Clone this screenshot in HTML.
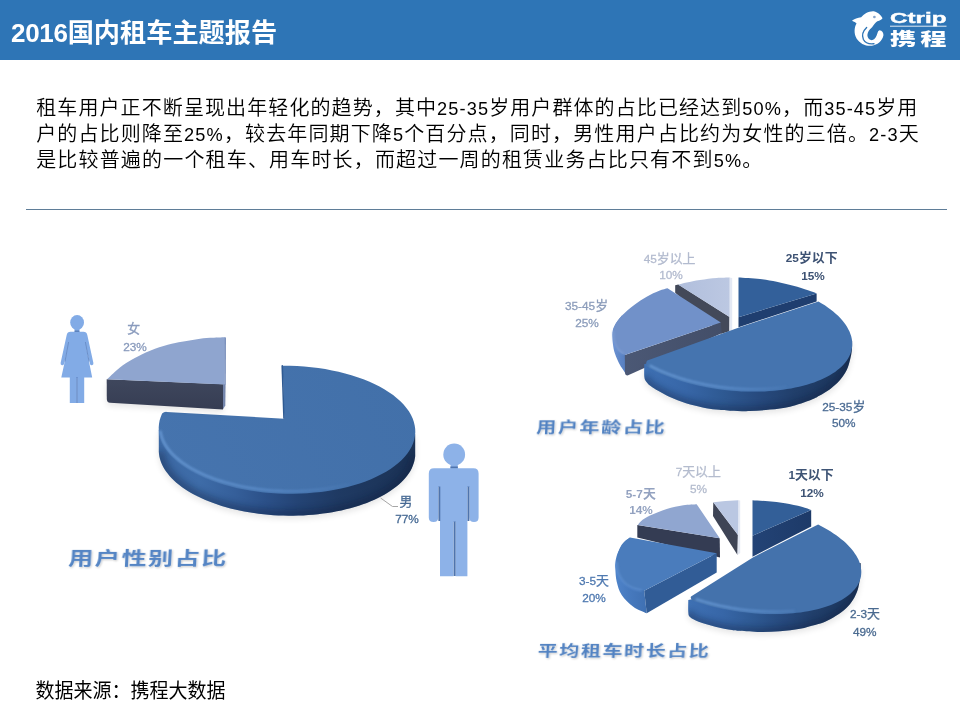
<!DOCTYPE html>
<html lang="zh-CN">
<head>
<meta charset="utf-8">
<title>2016国内租车主题报告</title>
<style>
html,body{margin:0;padding:0;background:#fff;}
body{width:960px;height:720px;position:relative;overflow:hidden;font-family:"Liberation Sans","Noto Sans CJK SC",sans-serif;}
.hdr{position:absolute;left:0;top:0;width:960px;height:59.6px;background:#2e75b6;}
.ttl{position:absolute;left:11px;top:13px;height:40px;line-height:40px;color:#fff;font-weight:bold;font-size:26.2px;white-space:nowrap;letter-spacing:0;}
.ttl .l{font-size:26px;letter-spacing:-0.3px;}
.para{position:absolute;left:36.2px;color:#000;font-size:20px;font-weight:350;white-space:nowrap;height:26px;line-height:26px;}
.para .l{font-size:18.2px;font-weight:400;}
.hr{position:absolute;left:26px;top:209px;width:921px;height:1px;background:#5f7d98;}
.src{position:absolute;left:35.5px;top:675.6px;transform:scaleY(1.08);transform-origin:0 50%;height:26px;line-height:26px;font-size:19px;color:#000;white-space:nowrap;}
svg{position:absolute;left:0;top:0;}
.lb{font-family:"Liberation Sans","Noto Sans CJK SC",sans-serif;font-size:12.9px;text-anchor:middle;}
.b{font-weight:bold;}
.lb .n{font-size:11.8px;}
.cap{font-family:"Liberation Sans","Noto Sans CJK SC",sans-serif;font-weight:700;}
</style>
</head>
<body>
<div class="hdr"></div>
<div class="ttl"><span class="l">2016</span>国内租车主题报告</div>
<div class="para" id="p1" style="top:94.6px;letter-spacing:1.1px">租车用户正不断呈现出年轻化的趋势，其中<span class="l">25-35</span>岁用户群体的占比已经达到<span class="l">50%</span>，而<span class="l">35-45</span>岁用</div>
<div class="para" id="p2" style="top:120.7px;letter-spacing:1.13px">户的占比则降至<span class="l">25%</span>，较去年同期下降<span class="l">5</span>个百分点，同时，男性用户占比约为女性的三倍。<span class="l">2-3</span>天</div>
<div class="para" id="p3" style="top:146.5px;letter-spacing:1.17px">是比较普遍的一个租车、用车时长，而超过一周的租赁业务占比只有不到<span class="l">5%</span>。</div>
<div class="hr"></div>
<div class="src">数据来源<span style="font-family:'Noto Sans CJK TC',sans-serif">：</span>携程大数据</div>
<svg width="960" height="720" viewBox="0 0 960 720">
<defs>
<filter id="bl1" x="-20%" y="-20%" width="140%" height="140%"><feGaussianBlur stdDeviation="1"/></filter>
<filter id="bl3" x="-20%" y="-20%" width="140%" height="140%"><feGaussianBlur stdDeviation="3"/></filter>
<filter id="ts" x="-10%" y="-30%" width="120%" height="180%"><feGaussianBlur in="SourceAlpha" stdDeviation="1.2"/><feOffset dx="1" dy="1.5" result="o"/><feComponentTransfer><feFuncA type="linear" slope="0.22"/></feComponentTransfer><feMerge><feMergeNode/><feMergeNode in="SourceGraphic"/></feMerge></filter>
<linearGradient id="w1" gradientUnits="userSpaceOnUse" x1="158" y1="0" x2="415" y2="0"><stop offset="0" stop-color="#3c69a4"/><stop offset="0.16" stop-color="#3e6ca8"/><stop offset="0.3" stop-color="#355f9a"/><stop offset="0.42" stop-color="#2b5088"/><stop offset="0.54" stop-color="#244475"/><stop offset="0.7" stop-color="#1f3a63"/><stop offset="1" stop-color="#1b3255"/></linearGradient>
<linearGradient id="f1" gradientUnits="userSpaceOnUse" x1="160" y1="490" x2="415" y2="370"><stop offset="0" stop-color="#4674ae"/><stop offset="1" stop-color="#4270a9"/></linearGradient>
<clipPath id="c1"><path d="M158.8,429.7L158.8,451.7L159.0,454.1L159.4,456.6L160.0,459.1L160.8,461.6L161.8,464.0L163.0,466.5L164.4,468.9L165.9,471.3L167.7,473.6L169.6,475.9L171.7,478.2L174.0,480.5L176.4,482.7L179.0,484.8L181.8,486.9L184.7,489.0L187.8,491.0L191.1,492.9L194.4,494.8L198.0,496.6L201.6,498.3L205.4,500.0L209.3,501.6L213.3,503.1L217.5,504.6L221.7,505.9L226.1,507.2L230.5,508.4L235.0,509.5L239.6,510.5L244.3,511.5L249.0,512.3L253.8,513.1L258.7,513.7L263.5,514.3L268.5,514.8L273.4,515.2L278.4,515.4L283.4,515.6L288.4,515.7L293.3,515.7L298.3,515.6L303.3,515.4L308.2,515.1L313.1,514.7L318.0,514.2L322.8,513.6L327.6,513.0L332.3,512.2L336.9,511.3L341.4,510.4L345.9,509.3L350.3,508.2L354.6,507.0L358.8,505.7L362.9,504.3L366.8,502.9L370.7,501.3L374.4,499.7L378.0,498.0L381.4,496.3L384.7,494.5L387.9,492.6L390.9,490.6L393.7,488.6L396.4,486.6L398.9,484.5L401.3,482.3L403.5,480.1L405.5,477.8L407.3,475.5L408.9,473.2L410.4,470.9L411.7,468.5L412.7,466.1L413.6,463.6L414.3,461.2L414.8,458.7L415.2,456.2L415.2,434.2Z"/></clipPath>
<linearGradient id="bv1" gradientUnits="userSpaceOnUse" x1="158" y1="0" x2="360" y2="0"><stop offset="0" stop-color="#74a6e2"/><stop offset="0.5" stop-color="#6496d4"/><stop offset="1" stop-color="#4472ac"/></linearGradient>
<linearGradient id="wf" gradientUnits="userSpaceOnUse" x1="0" y1="379" x2="0" y2="409"><stop offset="0" stop-color="#3f475d"/><stop offset="1" stop-color="#363d53"/></linearGradient>
<linearGradient id="f2d" gradientUnits="userSpaceOnUse" x1="676" y1="0" x2="730" y2="0"><stop offset="0" stop-color="#b0bedc"/><stop offset="1" stop-color="#bcc8e2"/></linearGradient>
<linearGradient id="w2c" gradientUnits="userSpaceOnUse" x1="612" y1="0" x2="627" y2="0"><stop offset="0" stop-color="#6e94d4"/><stop offset="0.5" stop-color="#5f87c8"/><stop offset="1" stop-color="#547cbd"/></linearGradient>
<linearGradient id="w2cr" gradientUnits="userSpaceOnUse" x1="625" y1="0" x2="722" y2="0"><stop offset="0" stop-color="#4b5875"/><stop offset="1" stop-color="#434e68"/></linearGradient>
<linearGradient id="w2b" gradientUnits="userSpaceOnUse" x1="645" y1="0" x2="852" y2="0"><stop offset="0" stop-color="#3e70b3"/><stop offset="0.2" stop-color="#3766a7"/><stop offset="0.38" stop-color="#2e5992"/><stop offset="0.55" stop-color="#274a7e"/><stop offset="0.72" stop-color="#213f6b"/><stop offset="1" stop-color="#1c355a"/></linearGradient>
<clipPath id="c2"><path d="M852.1,341.0C852.1,342.5 852.2,346.8 851.9,350.0C851.5,353.2 850.9,356.7 850.0,360.0C849.1,363.3 848.4,366.7 846.7,370.0C845.0,373.3 842.8,376.8 840.0,380.0C837.2,383.2 833.5,386.6 830.0,389.2C826.5,391.8 822.4,394.0 819.2,395.8C816.0,397.6 815.7,398.2 810.8,400.0C805.9,401.8 796.8,405.1 790.0,406.7C783.2,408.3 776.7,408.9 770.0,409.6C763.3,410.3 756.7,410.9 750.0,411.1C743.3,411.3 735.7,410.9 730.0,410.7C724.3,410.4 720.5,410.1 716.0,409.6C711.5,409.1 707.7,408.6 702.7,407.5C697.7,406.4 691.6,405.1 686.0,403.3C680.4,401.5 674.8,399.3 669.3,396.7C663.8,394.1 656.5,390.0 652.7,387.5C648.9,385.0 647.7,383.5 646.3,381.7C644.9,379.9 644.6,379.4 644.3,376.5C644.0,373.6 644.3,366.1 644.3,364.0Z"/></clipPath>
<linearGradient id="bv2" gradientUnits="userSpaceOnUse" x1="645" y1="0" x2="800" y2="0"><stop offset="0" stop-color="#74a6e2"/><stop offset="0.5" stop-color="#6496d4"/><stop offset="1" stop-color="#4574af"/></linearGradient>
<linearGradient id="w3a" gradientUnits="userSpaceOnUse" x1="753" y1="0" x2="811" y2="0"><stop offset="0" stop-color="#234376"/><stop offset="1" stop-color="#1d3a68"/></linearGradient>
<linearGradient id="w3c" gradientUnits="userSpaceOnUse" x1="615" y1="0" x2="647" y2="0"><stop offset="0" stop-color="#4f84ca"/><stop offset="0.4" stop-color="#477abf"/><stop offset="1" stop-color="#3f70b2"/></linearGradient>
<linearGradient id="w3b" gradientUnits="userSpaceOnUse" x1="689" y1="0" x2="861" y2="0"><stop offset="0" stop-color="#3e70b3"/><stop offset="0.2" stop-color="#3766a7"/><stop offset="0.38" stop-color="#2e5992"/><stop offset="0.55" stop-color="#274a7e"/><stop offset="0.72" stop-color="#213f6b"/><stop offset="1" stop-color="#1c355a"/></linearGradient>
<clipPath id="c3"><path d="M860.7,563.0C860.7,564.7 860.8,569.9 860.5,573.3C860.2,576.7 859.8,580.1 859.2,583.3C858.6,586.5 858.0,589.4 856.7,592.5C855.5,595.6 853.8,598.8 851.7,601.7C849.6,604.6 847.3,607.4 844.2,610.0C841.1,612.6 836.8,615.4 833.3,617.5C829.8,619.6 826.3,621.2 823.3,622.5C820.2,623.8 818.9,624.0 815.0,625.0C811.1,626.0 805.8,627.7 800.0,628.8C794.2,629.8 786.7,630.8 780.0,631.3C773.3,631.8 766.7,632.1 760.0,632.0C753.3,631.9 744.7,631.1 740.0,630.8C735.3,630.5 736.1,630.7 732.0,630.0C727.9,629.3 720.8,628.1 715.3,626.7C709.8,625.3 702.9,623.3 698.7,621.7C694.5,620.1 691.7,618.6 690.0,617.0C688.3,615.4 688.6,614.8 688.3,612.0C688.0,609.2 688.3,602.0 688.3,600.0Z"/></clipPath>
<linearGradient id="bv3" gradientUnits="userSpaceOnUse" x1="689" y1="0" x2="820" y2="0"><stop offset="0" stop-color="#74a6e2"/><stop offset="0.5" stop-color="#6496d4"/><stop offset="1" stop-color="#4472ac"/></linearGradient>
</defs>
<path d="M158.8,429.7L158.8,451.7L159.0,454.1L159.4,456.6L160.0,459.1L160.8,461.6L161.8,464.0L163.0,466.5L164.4,468.9L165.9,471.3L167.7,473.6L169.6,475.9L171.7,478.2L174.0,480.5L176.4,482.7L179.0,484.8L181.8,486.9L184.7,489.0L187.8,491.0L191.1,492.9L194.4,494.8L198.0,496.6L201.6,498.3L205.4,500.0L209.3,501.6L213.3,503.1L217.5,504.6L221.7,505.9L226.1,507.2L230.5,508.4L235.0,509.5L239.6,510.5L244.3,511.5L249.0,512.3L253.8,513.1L258.7,513.7L263.5,514.3L268.5,514.8L273.4,515.2L278.4,515.4L283.4,515.6L288.4,515.7L293.3,515.7L298.3,515.6L303.3,515.4L308.2,515.1L313.1,514.7L318.0,514.2L322.8,513.6L327.6,513.0L332.3,512.2L336.9,511.3L341.4,510.4L345.9,509.3L350.3,508.2L354.6,507.0L358.8,505.7L362.9,504.3L366.8,502.9L370.7,501.3L374.4,499.7L378.0,498.0L381.4,496.3L384.7,494.5L387.9,492.6L390.9,490.6L393.7,488.6L396.4,486.6L398.9,484.5L401.3,482.3L403.5,480.1L405.5,477.8L407.3,475.5L408.9,473.2L410.4,470.9L411.7,468.5L412.7,466.1L413.6,463.6L414.3,461.2L414.8,458.7L415.2,456.2L415.2,434.2Z" fill="#000" opacity=".10" filter="url(#bl3)" transform="translate(0,3)"/>
<path d="M158.8,429.7L158.8,451.7L159.0,454.1L159.4,456.6L160.0,459.1L160.8,461.6L161.8,464.0L163.0,466.5L164.4,468.9L165.9,471.3L167.7,473.6L169.6,475.9L171.7,478.2L174.0,480.5L176.4,482.7L179.0,484.8L181.8,486.9L184.7,489.0L187.8,491.0L191.1,492.9L194.4,494.8L198.0,496.6L201.6,498.3L205.4,500.0L209.3,501.6L213.3,503.1L217.5,504.6L221.7,505.9L226.1,507.2L230.5,508.4L235.0,509.5L239.6,510.5L244.3,511.5L249.0,512.3L253.8,513.1L258.7,513.7L263.5,514.3L268.5,514.8L273.4,515.2L278.4,515.4L283.4,515.6L288.4,515.7L293.3,515.7L298.3,515.6L303.3,515.4L308.2,515.1L313.1,514.7L318.0,514.2L322.8,513.6L327.6,513.0L332.3,512.2L336.9,511.3L341.4,510.4L345.9,509.3L350.3,508.2L354.6,507.0L358.8,505.7L362.9,504.3L366.8,502.9L370.7,501.3L374.4,499.7L378.0,498.0L381.4,496.3L384.7,494.5L387.9,492.6L390.9,490.6L393.7,488.6L396.4,486.6L398.9,484.5L401.3,482.3L403.5,480.1L405.5,477.8L407.3,475.5L408.9,473.2L410.4,470.9L411.7,468.5L412.7,466.1L413.6,463.6L414.3,461.2L414.8,458.7L415.2,456.2L415.2,434.2Z" fill="url(#w1)"/>
<g clip-path="url(#c1)"><path d="M158.8,451.7L159.0,454.1L159.4,456.6L160.0,459.1L160.8,461.6L161.8,464.0L163.0,466.5L164.4,468.9L165.9,471.3L167.7,473.6L169.6,475.9L171.7,478.2L174.0,480.5L176.4,482.7L179.0,484.8L181.8,486.9L184.7,489.0L187.8,491.0L191.1,492.9L194.4,494.8L198.0,496.6L201.6,498.3L205.4,500.0L209.3,501.6L213.3,503.1L217.5,504.6L221.7,505.9L226.1,507.2L230.5,508.4L235.0,509.5L239.6,510.5L244.3,511.5L249.0,512.3L253.8,513.1L258.7,513.7L263.5,514.3L268.5,514.8L273.4,515.2L278.4,515.4L283.4,515.6L288.4,515.7L293.3,515.7L298.3,515.6L303.3,515.4L308.2,515.1L313.1,514.7L318.0,514.2L322.8,513.6L327.6,513.0L332.3,512.2L336.9,511.3L341.4,510.4L345.9,509.3L350.3,508.2L354.6,507.0L358.8,505.7L362.9,504.3L366.8,502.9L370.7,501.3L374.4,499.7L378.0,498.0L381.4,496.3L384.7,494.5L387.9,492.6L390.9,490.6L393.7,488.6L396.4,486.6L398.9,484.5L401.3,482.3L403.5,480.1L405.5,477.8L407.3,475.5L408.9,473.2L410.4,470.9L411.7,468.5L412.7,466.1L413.6,463.6L414.3,461.2L414.8,458.7L415.2,456.2" fill="none" stroke="#101f3c" stroke-width="12" opacity=".35" filter="url(#bl3)"/></g>
<path d="M282.7,365.7L289.9,365.7L297.1,366.0L304.2,366.5L311.3,367.2L318.3,368.0L325.2,369.1L332.0,370.4L338.6,371.8L345.1,373.4L351.4,375.2L357.5,377.2L363.4,379.3L369.0,381.6L374.4,384.0L379.5,386.6L384.3,389.3L388.9,392.2L393.1,395.1L396.9,398.2L400.4,401.3L403.6,404.6L406.4,407.9L408.9,411.3L410.9,414.8L412.6,418.3L413.8,421.8L414.7,425.4L415.2,429.0L415.3,432.5L414.9,436.1L414.2,439.7L413.1,443.2L411.6,446.7L409.7,450.1L407.4,453.4L404.7,456.7L401.7,459.9L398.3,463.0L394.5,466.0L390.5,468.9L386.1,471.7L381.3,474.3L376.3,476.8L371.1,479.2L365.5,481.4L359.7,483.4L353.7,485.3L347.5,487.0L341.0,488.5L334.5,489.8L327.7,490.9L320.9,491.9L313.9,492.6L306.8,493.2L299.7,493.6L292.6,493.7L285.4,493.7L278.2,493.4L271.1,493.0L264.0,492.4L257.0,491.5L250.1,490.5L243.3,489.3L236.6,487.9L230.1,486.3L223.7,484.5L217.6,482.6L211.7,480.5L206.0,478.2L200.6,475.8L195.4,473.3L190.5,470.6L185.9,467.8L181.7,464.8L177.8,461.8L174.2,458.6L170.9,455.4L168.1,452.1L165.6,448.7L163.4,445.3L161.7,441.8L160.4,438.2L159.4,434.7L158.9,431.1L158.7,427.5L159.0,423.9L159.6,420.4L160.7,416.9L162.1,413.4Q164.2,411.6 166.8,411.9L284.2,418.7Z" fill="url(#f1)"/>
<path d="M349.5,483.8L345.7,484.8L341.8,485.7L337.8,486.6L333.8,487.3L329.7,488.0L325.6,488.7L321.4,489.2L317.2,489.7L313.0,490.1L308.7,490.5L304.4,490.8L300.1,491.0L295.7,491.1L291.4,491.1L287.0,491.1L282.7,491.0L278.3,490.8L274.0,490.6L269.6,490.3L265.3,489.9L261.1,489.4L256.8,488.9L252.6,488.3L248.4,487.6L244.3,486.9L240.2,486.1L236.2,485.2L232.2,484.2L228.3,483.2L224.5,482.2L220.7,481.0L217.1,479.8L213.5,478.6L210.0,477.2L206.5,475.9L203.2,474.4L200.0,472.9L196.9,471.4L193.9,469.8L191.0,468.2L188.2,466.5L185.5,464.7L182.9,463.0L180.5,461.2L178.2,459.3L176.0,457.4L173.9,455.5L172.0,453.5L170.2,451.5L168.6,449.5L167.1,447.5L165.7,445.4L164.5,443.4L163.4,441.3L162.5,439.2L161.7,437.0L161.1,434.9L160.6,432.8L160.3,430.6" fill="none" stroke="url(#bv1)" stroke-width="2.4" opacity=".7" filter="url(#bl1)"/>
<path d="M281.4,365.4L283,365L284.6,418.7L283.2,418.7Z" fill="#2f5a92"/>
<path d="M106.7,380L224,384.2L223,409.4L110,402.8Q106.9,402.5 106.8,399Z" fill="#000" opacity=".1" filter="url(#bl3)" transform="translate(0,3)"/>
<path d="M106.7,379.3L224,384.2L223,409.4L110,402.8Q106.9,402.5 106.8,399Z" fill="url(#wf)"/>
<path d="M223,384L225.6,384L225.3,405.5L223,409.2Z" fill="#7486ad"/>
<path d="M225.0,337.2C222.5,337.3 214.7,337.5 210.0,337.8C205.3,338.1 201.2,338.6 197.0,339.2C192.8,339.8 189.2,340.5 185.0,341.2C180.8,342.0 176.7,342.5 171.7,343.8C166.7,345.0 160.6,346.7 155.0,348.8C149.4,350.8 143.2,353.8 138.3,356.2C133.4,358.7 129.7,360.7 125.8,363.3C121.9,365.9 117.7,369.4 115.0,371.7C112.3,374.0 110.8,375.8 109.5,377.0C108.2,378.2 107.6,378.8 107.2,379.2L224.8,384.4Z" fill="#8fa5cf"/>
<path d="M224.6,337.2L226,337.6L225.8,384.4L224.6,384.4Z" fill="#7d92bd"/>
<path d="M678.3,284.5L675.2,285.2L675.2,292.8L721.2,333.8L729.4,331.2L729.6,316.9Z" fill="#434959"/>
<path d="M729.4,277.5L732.2,278L732.2,330.2L729.4,331.2Z" fill="#e4e9f4"/>
<path d="M729.6,277.5C727.5,277.6 721.6,277.6 716.7,278.0C711.8,278.4 705.0,279.2 700.0,280.0C695.0,280.8 690.3,281.7 686.7,282.5C683.1,283.3 679.7,284.3 678.3,284.7L729.6,316.9Z" fill="url(#f2d)"/>
<path d="M738.5,317.2L816.6,293.4L816.6,301.4L738.5,327.2Z" fill="#1f3e6f"/>
<path d="M738.5,277.5C742.1,277.8 753.6,278.3 760.0,279.0C766.4,279.7 771.2,280.7 776.7,281.8C782.2,282.9 788.1,284.4 793.3,285.8C798.5,287.2 804.1,289.0 808.0,290.3C811.9,291.6 815.2,292.9 816.6,293.4L738.5,317.2Z" fill="#33609a"/>
<path d="M621.7,315.8C620.6,317.3 616.5,322.3 615.0,325.0C613.5,327.7 612.9,328.9 612.5,332.0C612.1,335.1 612.5,340.1 612.9,343.8C613.3,347.4 613.8,350.2 615.0,353.8C616.2,357.3 618.0,361.4 620.0,365.0C622.0,368.6 625.8,373.5 626.9,375.2L625.3,354.8L640,320Z" fill="url(#w2c)"/>
<path d="M624.8,355L720.8,322.6L721.7,333.3L627.6,375.6Q625.2,375.6 625,373Z" fill="url(#w2cr)"/>
<path d="M667.5,288.3C666.1,288.7 662.7,289.4 659.2,290.8C655.7,292.2 650.9,294.3 646.7,296.7C642.5,299.1 638.4,301.8 634.2,305.0C630.0,308.2 624.9,312.5 621.7,315.8C618.5,319.1 616.5,322.1 615.0,325.0C613.5,327.9 613.0,330.6 612.8,333.3C612.6,336.1 613.1,338.8 613.9,341.5C614.7,344.2 616.2,347.4 617.6,349.5C619.0,351.6 620.7,352.9 622.0,353.8C623.3,354.7 624.8,354.6 625.3,354.8L720.8,322.6Z" fill="#7191c9"/>
<path d="M613.4,331.0C613.5,332.8 613.5,338.4 614.3,341.5C615.0,344.6 616.4,347.2 617.9,349.3C619.4,351.4 622.6,353.2 623.5,354.0" fill="none" stroke="#86a6dc" stroke-width="1.6" opacity=".6" filter="url(#bl1)"/>
<path d="M852.1,341.0C852.1,342.5 852.2,346.8 851.9,350.0C851.5,353.2 850.9,356.7 850.0,360.0C849.1,363.3 848.4,366.7 846.7,370.0C845.0,373.3 842.8,376.8 840.0,380.0C837.2,383.2 833.5,386.6 830.0,389.2C826.5,391.8 822.4,394.0 819.2,395.8C816.0,397.6 815.7,398.2 810.8,400.0C805.9,401.8 796.8,405.1 790.0,406.7C783.2,408.3 776.7,408.9 770.0,409.6C763.3,410.3 756.7,410.9 750.0,411.1C743.3,411.3 735.7,410.9 730.0,410.7C724.3,410.4 720.5,410.1 716.0,409.6C711.5,409.1 707.7,408.6 702.7,407.5C697.7,406.4 691.6,405.1 686.0,403.3C680.4,401.5 674.8,399.3 669.3,396.7C663.8,394.1 656.5,390.0 652.7,387.5C648.9,385.0 647.7,383.5 646.3,381.7C644.9,379.9 644.6,379.4 644.3,376.5C644.0,373.6 644.3,366.1 644.3,364.0Z" fill="#000" opacity=".10" filter="url(#bl3)" transform="translate(0,3)"/>
<path d="M852.1,341.0C852.1,342.5 852.2,346.8 851.9,350.0C851.5,353.2 850.9,356.7 850.0,360.0C849.1,363.3 848.4,366.7 846.7,370.0C845.0,373.3 842.8,376.8 840.0,380.0C837.2,383.2 833.5,386.6 830.0,389.2C826.5,391.8 822.4,394.0 819.2,395.8C816.0,397.6 815.7,398.2 810.8,400.0C805.9,401.8 796.8,405.1 790.0,406.7C783.2,408.3 776.7,408.9 770.0,409.6C763.3,410.3 756.7,410.9 750.0,411.1C743.3,411.3 735.7,410.9 730.0,410.7C724.3,410.4 720.5,410.1 716.0,409.6C711.5,409.1 707.7,408.6 702.7,407.5C697.7,406.4 691.6,405.1 686.0,403.3C680.4,401.5 674.8,399.3 669.3,396.7C663.8,394.1 656.5,390.0 652.7,387.5C648.9,385.0 647.7,383.5 646.3,381.7C644.9,379.9 644.6,379.4 644.3,376.5C644.0,373.6 644.3,366.1 644.3,364.0Z" fill="url(#w2b)"/>
<g clip-path="url(#c2)"><path d="M851.9,350.0C851.6,351.7 850.9,356.7 850.0,360.0C849.1,363.3 848.4,366.7 846.7,370.0C845.0,373.3 842.8,376.8 840.0,380.0C837.2,383.2 833.5,386.6 830.0,389.2C826.5,391.8 822.4,394.0 819.2,395.8C816.0,397.6 815.7,398.2 810.8,400.0C805.9,401.8 796.8,405.1 790.0,406.7C783.2,408.3 776.7,408.9 770.0,409.6C763.3,410.3 756.7,410.9 750.0,411.1C743.3,411.3 735.7,410.9 730.0,410.7C724.3,410.4 720.5,410.1 716.0,409.6C711.5,409.1 707.7,408.6 702.7,407.5C697.7,406.4 691.6,405.1 686.0,403.3C680.4,401.5 674.8,399.3 669.3,396.7C663.8,394.1 656.5,390.0 652.7,387.5C648.9,385.0 647.7,383.5 646.3,381.7C644.9,379.9 644.6,377.4 644.3,376.5" fill="none" stroke="#101f3c" stroke-width="10" opacity=".35" filter="url(#bl3)"/></g>
<path d="M818.4,301.4L821.7,303.4L824.8,305.3L827.8,307.4L830.6,309.4L833.2,311.5L835.7,313.7L838.1,315.8L840.2,318.0L842.2,320.3L844.0,322.5L845.7,324.8L847.1,327.1L848.4,329.4L849.5,331.6L850.4,333.9L851.2,336.2L851.7,338.5L852.1,340.8L852.2,343.1L852.2,345.4L852.0,347.6L851.6,349.8L851.0,352.0L850.2,354.2L849.3,356.3L848.1,358.4L846.8,360.5L845.3,362.5L843.6,364.5L841.7,366.4L839.7,368.3L837.4,370.1L835.1,371.9L832.5,373.6L829.8,375.2L827.0,376.8L824.0,378.3L820.8,379.7L817.5,381.1L814.1,382.4L810.6,383.6L806.9,384.7L803.1,385.8L799.2,386.7L795.2,387.6L791.1,388.4L786.9,389.1L782.6,389.8L778.2,390.3L773.8,390.8L769.3,391.1L764.7,391.4L760.1,391.6L755.5,391.6L750.8,391.6L746.1,391.5L741.3,391.4L736.6,391.1L731.8,390.7L727.0,390.2L722.3,389.7L717.5,389.1L712.8,388.3L708.1,387.5L703.5,386.6L698.9,385.7L694.3,384.6L689.8,383.4L685.4,382.2L681.1,380.9L676.8,379.6L672.6,378.1L668.6,376.6L664.6,375.0L660.7,373.4L656.9,371.7L653.3,369.9L649.8,368.1L646.4,366.2Q645.6,362 647.3,360.6L739,327.6Z" fill="#4574af"/>
<path d="M786.4,386.7L783.7,387.1L781.0,387.5L778.2,387.8L775.4,388.1L772.6,388.4L769.7,388.6L766.9,388.8L764.0,388.9L761.0,389.0L758.1,389.1L755.2,389.2L752.2,389.2L749.2,389.1L746.2,389.1L743.2,388.9L740.2,388.8L737.2,388.6L734.2,388.4L731.2,388.1L728.2,387.9L725.1,387.5L722.1,387.2L719.1,386.8L716.1,386.3L713.2,385.9L710.2,385.4L707.2,384.8L704.3,384.3L701.4,383.7L698.5,383.0L695.6,382.4L692.7,381.7L689.9,380.9L687.1,380.2L684.3,379.4L681.6,378.6L678.9,377.7L676.2,376.8L673.6,375.9L671.0,375.0L668.4,374.0L665.9,373.0L663.4,372.0L661.0,370.9L658.6,369.9L656.3,368.8L654.0,367.7L651.8,366.5L649.6,365.4" fill="none" stroke="url(#bv2)" stroke-width="2.2" opacity=".75" filter="url(#bl1)"/>
<path d="M713.3,502.3L713,516L737.5,555L738,535Z" fill="#3e4455"/>
<path d="M738.3,500.3L740.2,500.6L740.2,553L737.5,555Z" fill="#e4e9f4"/>
<path d="M738.3,500.3Q725,500.6 713.3,502.3L738,535Z" fill="#bac7e2"/>
<path d="M752.5,535.8L811.2,510L811.2,526.4L752.5,556.7Z" fill="url(#w3a)"/>
<path d="M752.5,500.3C755.1,500.5 762.9,500.8 768.3,501.3C773.7,501.8 779.4,502.4 785.0,503.3C790.6,504.2 797.3,505.6 801.7,506.7C806.1,507.8 809.6,509.4 811.2,510.0L752.5,535.8Z" fill="#335f98"/>
<path d="M637.3,525L719.7,538.3L720,557.5L637.3,537.5Z" fill="#343c53"/>
<path d="M696.7,504.2C694.5,504.4 688.3,504.4 683.3,505.2C678.3,506.0 672.2,507.3 666.7,509.0C661.2,510.7 654.3,513.6 650.0,515.6C645.7,517.6 643.0,519.6 641.0,521.2C639.0,522.8 638.3,524.4 637.8,525.0L719.7,538.3Z" fill="#90a6d0"/>
<path d="M630.0,537.5C628.8,538.6 625.1,541.3 623.0,544.0C620.9,546.7 618.8,550.3 617.5,553.5C616.2,556.7 615.6,560.2 615.3,563.0C614.9,565.8 615.2,566.9 615.4,570.0C615.6,573.1 615.7,577.5 616.7,581.7C617.8,585.9 618.9,590.8 621.7,595.0C624.5,599.2 629.1,603.7 633.3,606.7C637.5,609.8 644.5,612.2 646.7,613.3L644.2,590.8L640,560Z" fill="url(#w3c)"/>
<path d="M644.2,590.8L716.7,553.3L716.7,572.5L646.7,613.3Z" fill="#315c96"/>
<path d="M644.2,590.8C642.4,590.4 636.5,589.5 633.3,588.3C630.1,587.0 627.5,585.8 625.0,583.3C622.5,580.8 619.9,577.2 618.5,573.3C617.1,569.4 616.5,564.0 616.7,560.0C616.9,556.0 618.3,552.0 619.5,549.0C620.7,546.0 622.2,543.9 624.0,542.0C625.8,540.1 629.0,538.2 630.0,537.5L716.7,553.3Z" fill="#4a7cbc"/>
<path d="M642.0,590.5C640.5,590.1 636.1,589.5 633.3,588.3C630.5,587.1 627.5,585.8 625.0,583.3C622.5,580.8 619.9,576.8 618.5,573.3C617.1,569.8 617.2,563.9 616.9,562.0" fill="none" stroke="#6fa0e0" stroke-width="1.6" opacity=".55" filter="url(#bl1)"/>
<path d="M860.7,563.0C860.7,564.7 860.8,569.9 860.5,573.3C860.2,576.7 859.8,580.1 859.2,583.3C858.6,586.5 858.0,589.4 856.7,592.5C855.5,595.6 853.8,598.8 851.7,601.7C849.6,604.6 847.3,607.4 844.2,610.0C841.1,612.6 836.8,615.4 833.3,617.5C829.8,619.6 826.3,621.2 823.3,622.5C820.2,623.8 818.9,624.0 815.0,625.0C811.1,626.0 805.8,627.7 800.0,628.8C794.2,629.8 786.7,630.8 780.0,631.3C773.3,631.8 766.7,632.1 760.0,632.0C753.3,631.9 744.7,631.1 740.0,630.8C735.3,630.5 736.1,630.7 732.0,630.0C727.9,629.3 720.8,628.1 715.3,626.7C709.8,625.3 702.9,623.3 698.7,621.7C694.5,620.1 691.7,618.6 690.0,617.0C688.3,615.4 688.6,614.8 688.3,612.0C688.0,609.2 688.3,602.0 688.3,600.0Z" fill="#000" opacity=".10" filter="url(#bl3)" transform="translate(0,3)"/>
<path d="M860.7,563.0C860.7,564.7 860.8,569.9 860.5,573.3C860.2,576.7 859.8,580.1 859.2,583.3C858.6,586.5 858.0,589.4 856.7,592.5C855.5,595.6 853.8,598.8 851.7,601.7C849.6,604.6 847.3,607.4 844.2,610.0C841.1,612.6 836.8,615.4 833.3,617.5C829.8,619.6 826.3,621.2 823.3,622.5C820.2,623.8 818.9,624.0 815.0,625.0C811.1,626.0 805.8,627.7 800.0,628.8C794.2,629.8 786.7,630.8 780.0,631.3C773.3,631.8 766.7,632.1 760.0,632.0C753.3,631.9 744.7,631.1 740.0,630.8C735.3,630.5 736.1,630.7 732.0,630.0C727.9,629.3 720.8,628.1 715.3,626.7C709.8,625.3 702.9,623.3 698.7,621.7C694.5,620.1 691.7,618.6 690.0,617.0C688.3,615.4 688.6,614.8 688.3,612.0C688.0,609.2 688.3,602.0 688.3,600.0Z" fill="url(#w3b)"/>
<g clip-path="url(#c3)"><path d="M860.5,573.3C860.3,575.0 859.8,580.1 859.2,583.3C858.6,586.5 858.0,589.4 856.7,592.5C855.5,595.6 853.8,598.8 851.7,601.7C849.6,604.6 847.3,607.4 844.2,610.0C841.1,612.6 836.8,615.4 833.3,617.5C829.8,619.6 826.3,621.2 823.3,622.5C820.2,623.8 818.9,624.0 815.0,625.0C811.1,626.0 805.8,627.7 800.0,628.8C794.2,629.8 786.7,630.8 780.0,631.3C773.3,631.8 766.7,632.1 760.0,632.0C753.3,631.9 744.7,631.1 740.0,630.8C735.3,630.5 736.1,630.7 732.0,630.0C727.9,629.3 720.8,628.1 715.3,626.7C709.8,625.3 702.9,623.3 698.7,621.7C694.5,620.1 691.7,618.6 690.0,617.0C688.3,615.4 688.6,612.8 688.3,612.0" fill="none" stroke="#101f3c" stroke-width="10" opacity=".35" filter="url(#bl3)"/></g>
<path d="M818.1,524.5L821.4,526.2L824.6,527.9L827.7,529.7L830.7,531.5L833.5,533.4L836.3,535.3L838.9,537.2L841.3,539.2L843.7,541.1L845.9,543.1L848.0,545.2L849.9,547.2L851.7,549.3L853.3,551.3L854.8,553.4L856.2,555.5L857.3,557.5L858.4,559.6L859.3,561.7L860.0,563.8L860.5,565.8L860.9,567.9L861.2,569.9L861.3,571.9L861.2,573.9L861.0,575.9L860.6,577.9L860.0,579.8L859.3,581.7L858.5,583.5L857.5,585.4L856.3,587.2L855.0,588.9L853.5,590.6L851.9,592.3L850.1,593.9L848.2,595.5L846.1,597.0L843.9,598.4L841.6,599.9L839.1,601.2L836.6,602.5L833.8,603.7L831.0,604.9L828.0,606.0L825.0,607.0L821.8,608.0L818.5,608.9L815.1,609.7L811.6,610.5L808.0,611.2L804.4,611.8L800.6,612.4L796.8,612.8L792.9,613.2L788.9,613.6L784.9,613.8L780.8,614.0L776.7,614.1L772.5,614.1L768.3,614.0L764.1,613.9L759.8,613.7L755.5,613.4L751.2,613.0L746.9,612.6L742.5,612.1L738.2,611.5L733.9,610.8L729.6,610.1L725.3,609.3L721.0,608.4L716.8,607.5L712.6,606.5L708.4,605.4L704.3,604.3L700.3,603.1L696.3,601.8L692.3,600.5Q689.6,597.6 691.4,596.2L753.3,557.2Z" fill="#4472ac"/>
<path d="M794.6,610.6L792.7,610.8L790.8,611.0L788.9,611.1L787.0,611.2L785.1,611.3L783.1,611.4L781.1,611.5L779.2,611.5L777.2,611.6L775.2,611.6L773.2,611.6L771.1,611.6L769.1,611.6L767.1,611.5L765.0,611.4L763.0,611.4L760.9,611.3L758.9,611.1L756.8,611.0L754.7,610.8L752.7,610.7L750.6,610.5L748.5,610.3L746.4,610.0L744.3,609.8L742.2,609.5L740.2,609.3L738.1,609.0L736.0,608.7L733.9,608.3L731.8,608.0L729.8,607.6L727.7,607.2L725.6,606.8L723.6,606.4L721.5,606.0L719.5,605.6L717.5,605.1L715.4,604.6L713.4,604.2L711.4,603.6L709.4,603.1L707.4,602.6L705.5,602.0L703.5,601.5L701.5,600.9L699.6,600.3L697.7,599.7L695.8,599.1" fill="none" stroke="url(#bv3)" stroke-width="2.2" opacity=".75" filter="url(#bl1)"/>
<g><ellipse cx="454.2" cy="454.5" rx="10.9" ry="11.1" fill="#8db2e8"/><rect x="450.6" y="463" width="7.2" height="6" fill="#8db2e8"/><rect x="450.4" y="466.5" width="7.4" height="2.1" fill="#4f74ad"/><path d="M434,468.3H473.4Q478.6,468.3 478.6,473.5V517.5Q478.6,522 474,522Q469.4,522 469.4,517.5V487H467.4V576.2H455.6V522H453.6V576.2H440V487H438.2V517.5Q438.2,522 433.6,522Q428.8,522 428.8,517.5V473.5Q428.8,468.3 434,468.3Z" fill="#8db2e8"/><rect x="438.4" y="486.5" width="1.9" height="34.5" fill="#4f74ad"/><rect x="467.5" y="486.5" width="1.9" height="34.5" fill="#4f74ad"/><rect x="453.7" y="521.5" width="1.9" height="54.5" fill="#4f74ad"/></g>
<g><ellipse cx="77.1" cy="322.4" rx="6.9" ry="7.4" fill="#82abe6"/><rect x="74.6" y="328" width="4.8" height="5" fill="#82abe6"/><rect x="74.6" y="330.6" width="4.8" height="1.5" fill="#4f74ad"/><path d="M70.5,331.8H83.5Q86.6,331.8 87.3,335L93.4,363Q93.7,365 92,365.3Q90.5,365.5 90,364L85.6,345L92.2,377.5H84.2V403H77.6V377.5H76.4V403H69.8V377.5H61.3L68.4,345L64,364Q63.5,365.5 62,365.3Q60.3,365 60.6,363L66.7,335Q67.4,331.8 70.5,331.8Z" fill="#82abe6"/><path d="M68.6,342L65,361.5" stroke="#6a8fc9" stroke-width="1" fill="none"/><path d="M85.4,342L89,361.5" stroke="#6a8fc9" stroke-width="1" fill="none"/><rect x="76.3" y="377" width="1.4" height="26" fill="#5581c6"/></g>
<text class="lb" fill="#8a9bbd" stroke="#8a9bbd" stroke-width=".3"><tspan x="133.7" y="333.3">女</tspan><tspan x="135" y="350.7"><tspan class="n">23%</tspan></tspan></text>
<text class="lb" fill="#476a94" stroke="#476a94" stroke-width=".3"><tspan x="406" y="505.6">男</tspan><tspan x="407" y="523.4"><tspan class="n">77%</tspan></tspan></text>
<path d="M380.6,498L392.5,506.5H398" fill="none" stroke="#a6a6a6" stroke-width="1"/>
<text class="lb b" fill="#3d5273"><tspan x="811.7" y="262.1"><tspan class="n">25</tspan>岁以下</tspan><tspan x="813" y="279.7"><tspan class="n">15%</tspan></tspan></text>
<text class="lb" fill="#4c6c94" stroke="#4c6c94" stroke-width=".3"><tspan x="843.75" y="410.6"><tspan class="n">25-35</tspan>岁</tspan><tspan x="843.75" y="427.4"><tspan class="n">50%</tspan></tspan></text>
<text class="lb" fill="#8c9dbb" stroke="#8c9dbb" stroke-width=".3"><tspan x="586.5" y="310.4"><tspan class="n">35-45</tspan>岁</tspan><tspan x="587" y="327.4"><tspan class="n">25%</tspan></tspan></text>
<text class="lb" fill="#b3bbcf" stroke="#b3bbcf" stroke-width=".3"><tspan x="669.6" y="262.6"><tspan class="n">45</tspan>岁以上</tspan><tspan x="671" y="279.4"><tspan class="n">10%</tspan></tspan></text>
<text class="lb b" fill="#3e5475"><tspan x="811" y="479.3"><tspan class="n">1</tspan>天以下</tspan><tspan x="812" y="496.9"><tspan class="n">12%</tspan></tspan></text>
<text class="lb" fill="#4a6a90" stroke="#4a6a90" stroke-width=".3"><tspan x="864.9" y="618.35"><tspan class="n">2-3</tspan>天</tspan><tspan x="864.7" y="635.65"><tspan class="n">49%</tspan></tspan></text>
<text class="lb" fill="#4f79b0" stroke="#4f79b0" stroke-width=".3"><tspan x="594" y="584.6"><tspan class="n">3-5</tspan>天</tspan><tspan x="594" y="601.9"><tspan class="n">20%</tspan></tspan></text>
<text class="lb b" fill="#93a2c0"><tspan x="640.8" y="497.6"><tspan class="n">5-7</tspan>天</tspan><tspan x="641" y="514.4"><tspan class="n">14%</tspan></tspan></text>
<text class="lb" fill="#b4bcce" stroke="#b4bcce" stroke-width=".3"><tspan x="698.3" y="476.3"><tspan class="n">7</tspan>天以上</tspan><tspan x="698.5" y="493.4"><tspan class="n">5%</tspan></tspan></text>
<text class="cap" filter="url(#ts)" transform="translate(68,564.9) skewX(-3) scale(1,0.74)" font-size="25" letter-spacing="1.6" fill="#5585c4">用户性别占比</text>
<text class="cap" filter="url(#ts)" transform="translate(536,432.3) skewX(-3) scale(1,0.72)" font-size="20" letter-spacing="1.7" fill="#5383c2">用户年龄占比</text>
<text class="cap" filter="url(#ts)" transform="translate(537.5,655.9) skewX(-3) scale(1,0.72)" font-size="20" letter-spacing="1.6" fill="#5383c2">平均租车时长占比</text>
<g transform="translate(848,6) scale(0.06111)" fill="#fff"><path d="M565,200C545,160 500,100 420,85C340,80 260,130 215,185C160,190 100,215 65,240C100,255 125,268 140,285C100,350 95,450 140,530C190,610 290,660 390,650C480,640 560,580 580,480C585,440 560,400 515,395C495,400 490,420 480,450C465,500 440,545 400,558C360,565 325,530 318,490C315,450 330,410 360,380C380,365 395,350 400,340C430,300 450,270 480,250C520,240 550,225 565,200Z"/><path d="M305,352C245,410 222,480 252,548C282,604 350,628 425,618" fill="none" stroke="#2e75b6" stroke-width="22" stroke-linecap="round"/><circle cx="432" cy="180" r="22" fill="#86a5cb"/></g>
<text x="890" y="22.6" font-family="'Liberation Sans',sans-serif" font-weight="bold" font-size="13.8" fill="#fff" stroke="#fff" stroke-width=".35" textLength="56.5" lengthAdjust="spacingAndGlyphs">Ctrip</text>
<rect x="890" y="25.7" width="56.5" height="1" fill="#fff" opacity=".85"/>
<text transform="translate(890,44.6) scale(1.5,1)" font-family="'Liberation Sans','Noto Sans CJK SC',sans-serif" font-weight="900" font-size="17.5" letter-spacing="2.6" fill="#fff">携程</text>
</svg>
</body>
</html>
